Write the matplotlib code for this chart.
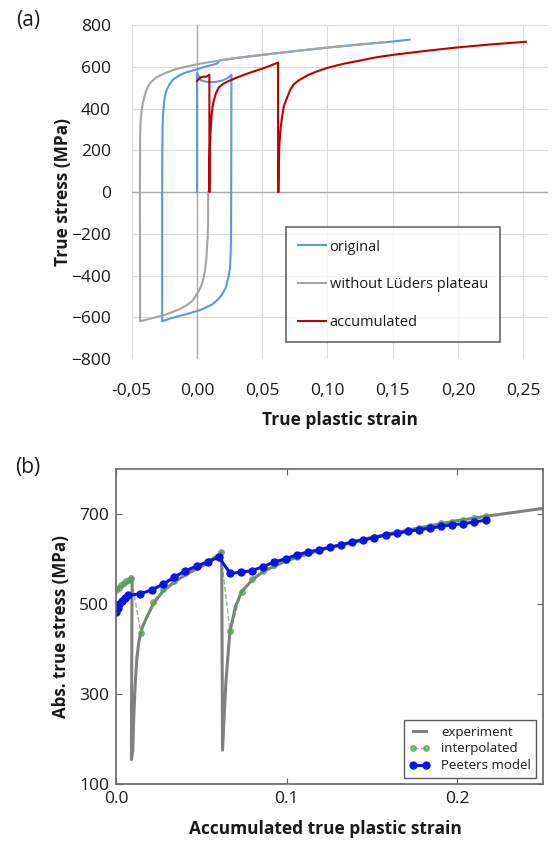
import matplotlib
matplotlib.use("Agg")
import matplotlib.pyplot as plt

plt.rcParams['font.family'] = ['Open Sans', 'DejaVu Sans']

# ---- panel (a): true stress vs true plastic strain ----
orig_strain = [0.0, 0.0, 0.003, 0.008, 0.014, 0.020, 0.024, 0.0264,
               0.0263, 0.0262, 0.0261, 0.0258, 0.0252, 0.0240, 0.0222, 0.0192,
               0.0155, 0.0115, 0.006, 0.0013, -0.006, -0.014, -0.020, -0.0267,
               -0.0267, -0.0266, -0.0264, -0.0260, -0.0254, -0.0245, -0.0232,
               -0.0212, -0.0181, -0.014, -0.0089, -0.004, 0.0, 0.008,
               0.0153, 0.0172, 0.030, 0.050, 0.075, 0.100, 0.125, 0.150, 0.163]
orig_stress = [0, 572, 535, 527, 527, 535, 548, 562,
               200, 0, -200, -300, -370, -411, -455, -491,
               -518, -539, -556, -568, -581, -595, -605, -619,
               0, 200, 300, 370, 420, 460, 490,
               515, 540, 557, 572, 581, 588, 603,
               615, 630, 642, 657, 675, 692, 707, 721, 730]

nolud_strain = [0.0086, 0.0085, 0.0082, 0.0077, 0.0070, 0.0062, 0.0051, 0.0035,
                0.0013, -0.0012, -0.0038, -0.008, -0.014, -0.020, -0.0242, -0.034,
                -0.0436, -0.0437, -0.0436, -0.0433, -0.0425, -0.0415, -0.0405,
                -0.039, -0.0375, -0.0355, -0.0314, -0.025, -0.0166, -0.008, 0.0,
                0.017, 0.030, 0.050, 0.075, 0.100, 0.125, 0.144]
nolud_stress = [0, -150, -220, -267, -330, -375, -411, -445,
                -475, -500, -523, -543, -563, -578, -588, -604,
                -619, 0, 250, 330, 388, 425, 450,
                484, 505, 525, 548, 568, 588, 601, 612,
                630, 642, 657, 675, 692, 707, 717]

acc_strain = [0.0, 0.003, 0.005, 0.007, 0.0095, 0.0095,
              0.0097, 0.0100, 0.0105, 0.0112, 0.0120, 0.0128, 0.0145, 0.0166,
              0.020, 0.0243, 0.030, 0.037, 0.043, 0.050, 0.056, 0.0621,
              0.0622, 0.0625, 0.0628, 0.0632, 0.064, 0.065, 0.0665, 0.069,
              0.0715, 0.074, 0.078, 0.085, 0.092, 0.100, 0.112, 0.125, 0.137,
              0.150, 0.175, 0.200, 0.225, 0.252]
acc_stress = [532, 550, 553, 552, 562, 0,
              150, 230, 300, 370, 410, 436, 472, 500,
              518, 532, 547, 564, 577, 591, 605, 620,
              0, 0, 150, 230, 300, 350, 410, 452,
              490, 515, 535, 560, 578, 595, 614, 630, 645,
              657, 676, 693, 707, 720]

a_xticks = [-0.05, 0.0, 0.05, 0.10, 0.15, 0.20, 0.25]
a_xticklabels = ['-0,05', '0,00', '0,05', '0,10', '0,15', '0,20', '0,25']
a_yticks = [-800, -600, -400, -200, 0, 200, 400, 600, 800]

# ---- panel (b): abs. true stress vs accumulated strain ----
exp_strain = [0.0, 0.002, 0.004, 0.006, 0.008, 0.0094, 0.0090, 0.0098, 0.0104,
              0.0112, 0.0122, 0.0135, 0.0155, 0.018, 0.0219, 0.0277, 0.0355,
              0.0434, 0.0531, 0.0619, 0.0624, 0.0633, 0.0643, 0.0658, 0.0668,
              0.0700, 0.0736, 0.080, 0.0863, 0.093, 0.100, 0.1125, 0.125, 0.1375,
              0.150, 0.175, 0.200, 0.225, 0.250]
exp_stress = [530, 537, 543, 548, 553, 558, 155, 174, 250,
              320, 380, 420, 450, 471, 501, 530, 553,
              571, 590, 616, 176, 248, 322, 397, 440,
              495, 528, 555, 573, 585, 597, 612, 626, 638,
              649, 668, 686, 700, 713]

interp_strain = [0.0, 0.0015, 0.003, 0.0045, 0.006, 0.0075, 0.009,
                 0.0146, 0.0215, 0.0277, 0.034, 0.0404, 0.0473, 0.0541, 0.0613,
                 0.0668, 0.0736, 0.0798, 0.0863, 0.0927, 0.0994, 0.1058, 0.1123,
                 0.1189, 0.1254, 0.1318, 0.1384, 0.1449, 0.1513, 0.158, 0.1644,
                 0.1709, 0.1775, 0.1839, 0.1904, 0.197, 0.2035, 0.2099, 0.2166]
interp_stress = [532, 537, 542, 547, 551, 555, 558,
                 436, 505, 533, 552, 569, 583, 597, 616,
                 440, 528, 556, 575, 587, 598, 606, 613,
                 620, 627, 633, 639, 644, 649, 655, 660,
                 665, 670, 675, 680, 684, 688, 692, 696]

peeters_strain = [0.0, 0.001, 0.002, 0.0035, 0.005, 0.0072, 0.014, 0.0209,
                  0.0277, 0.034, 0.0404, 0.0473, 0.0541, 0.0603, 0.0668, 0.0732,
                  0.0798, 0.0863, 0.0927, 0.0994, 0.1058, 0.1123, 0.1189, 0.1254,
                  0.1318, 0.1384, 0.1449, 0.1513, 0.158, 0.1644, 0.1709, 0.1775,
                  0.1839, 0.1904, 0.197, 0.2035, 0.2099, 0.2166]
peeters_stress = [482, 492, 500, 507, 513, 520, 523, 532,
                  545, 560, 574, 585, 595, 605, 569, 571,
                  575, 584, 594, 601, 610, 616, 621, 627,
                  632, 638, 643, 648, 654, 658, 662, 666,
                  669, 673, 677, 679, 683, 687]

b_xticks = [0.0, 0.1, 0.2]
b_yticks = [100, 300, 500, 700]

text_col = '#1a1a1a'

fig = plt.figure(figsize=(5.53, 8.43), dpi=100)

# panel (a), Excel look
ax1 = fig.add_axes([0.2382, 0.5741, 0.7528, 0.3962])
ax1.plot(orig_strain, orig_stress, color='#5B9BD5', lw=1.5, label='original')
ax1.plot(nolud_strain, nolud_stress, color='#A5A5A5', lw=1.5, label='without Lüders plateau')
ax1.plot(acc_strain, acc_stress, color='#C00000', lw=1.5, label='accumulated')
ax1.set_xlim(-0.05, 0.269)
ax1.set_ylim(-800, 800)
ax1.set_xticks(a_xticks)
ax1.set_xticklabels(a_xticklabels)
ax1.set_yticks(a_yticks)
ax1.grid(True, color='#DCDCDC', lw=0.8)
ax1.set_axisbelow(True)
ax1.axhline(0, color='#AAAAAA', lw=1.0, zorder=1)
ax1.axvline(0, color='#AAAAAA', lw=1.0, zorder=1)
for s in ax1.spines.values():
    s.set_visible(False)
ax1.tick_params(length=0, labelsize=12.5, colors=text_col)
ax1.tick_params(axis='y', pad=15)
ax1.tick_params(axis='x', pad=17)
ax1.set_xlabel('True plastic strain', fontsize=12.5, fontweight='bold', color=text_col)
ax1.set_ylabel('True stress (MPa)', fontsize=12.5, fontweight='bold', color=text_col)
ax1.xaxis.set_label_coords(0.5, -0.183)
ax1.xaxis.label.set_va('center')
ax1.yaxis.set_label_coords(-0.166, 0.5)
ax1.yaxis.label.set_va('center')
leg1 = ax1.legend(loc='upper left', bbox_to_anchor=(0.370, 0.395), borderaxespad=0,
                  fontsize=10.5, frameon=True, fancybox=False, labelspacing=1.55,
                  handlelength=1.9, handletextpad=0.25, borderpad=0.85)
leg1.get_frame().set_edgecolor('#404040')
leg1.get_frame().set_linewidth(1.2)
for t in leg1.get_texts():
    t.set_color(text_col)

# panel (b), classic matplotlib look
ax2 = fig.add_axes([0.2098, 0.0696, 0.7716, 0.3737])
ax2.plot(exp_strain, exp_stress, color='#808080', lw=2.2, label='experiment')
ax2.plot(interp_strain, interp_stress, color='#5a9e5a', lw=1.0, ls='--', alpha=0.7,
         marker='o', ms=4, mec='#5a9e5a', label='interpolated')
ax2.plot(peeters_strain, peeters_stress, color='#0a14e6', lw=2.2, marker='o', ms=5,
         mec='#0a14e6', label='Peeters model')
ax2.set_xlim(0, 0.25)
ax2.set_ylim(100, 800)
ax2.set_xticks(b_xticks)
ax2.set_yticks(b_yticks)
for s in ax2.spines.values():
    s.set_color('#666666')
    s.set_linewidth(1.2)
ax2.tick_params(direction='in', top=True, right=True, length=4, width=0.8,
                color='#666666', labelsize=12.5, labelcolor=text_col, pad=5)
ax2.set_xlabel('Accumulated true plastic strain', fontsize=12.5, fontweight='bold', color=text_col)
ax2.set_ylabel('Abs. true stress (MPa)', fontsize=12.2, fontweight='bold', color=text_col)
ax2.xaxis.set_label_coords(0.49, -0.141)
ax2.xaxis.label.set_va('center')
ax2.yaxis.set_label_coords(-0.130, 0.5)
ax2.yaxis.label.set_va('center')
leg2 = ax2.legend(loc='lower right', fontsize=9.5, numpoints=2, fancybox=False,
                  handlelength=1.6, labelspacing=0.3, borderpad=0.4)
leg2.get_frame().set_edgecolor('#333333')
leg2.get_frame().set_linewidth(1.0)
for t in leg2.get_texts():
    t.set_color(text_col)

fig.text(0.0506, 0.976, '(a)', fontsize=15, ha='center', va='center', color=text_col)
fig.text(0.0506, 0.445, '(b)', fontsize=15, ha='center', va='center', color=text_col)

fig.savefig('out.png', dpi=100)
